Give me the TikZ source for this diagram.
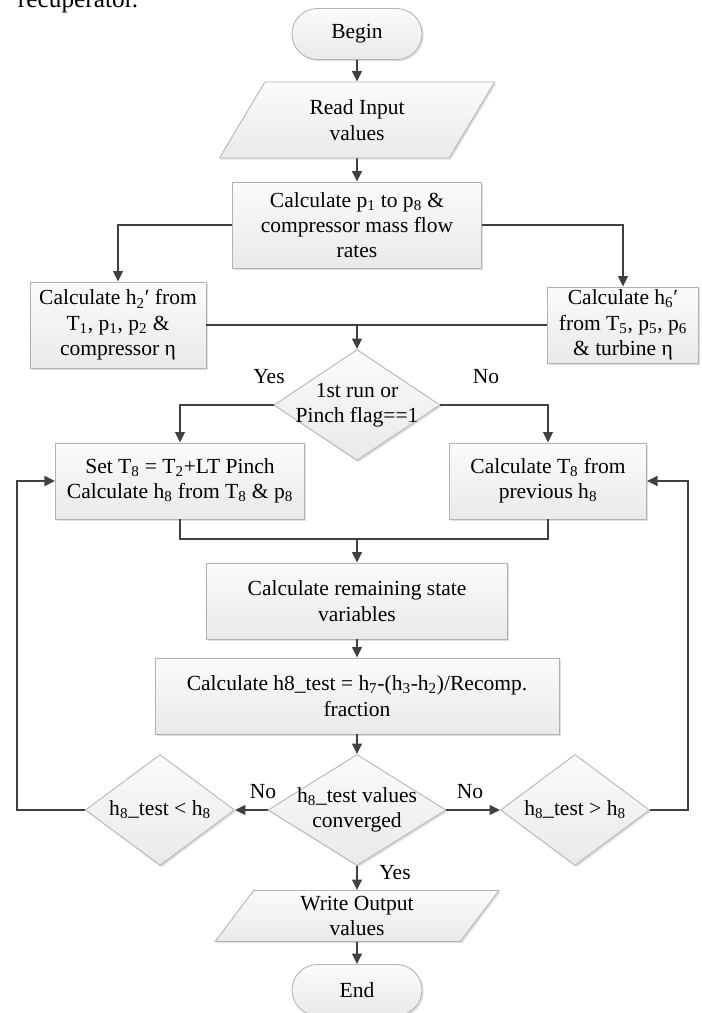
\documentclass[tikz,border=0pt]{standalone}
\usepackage{fontspec}
\setmainfont{Liberation Serif}
\usetikzlibrary{shapes.geometric,shapes.misc,arrows.meta,shadows}
\newcommand{\lo}[1]{\textsubscript{#1}}

\begin{document}
\begin{tikzpicture}[x=0.025cm, y=-0.025cm, font=\fontsize{15.3}{18}\selectfont,
% common options for blocks:
block/.style = {draw=gray!60, line width=0.6pt, top color=gray!3, bottom color=gray!17,
            align=center, inner sep=0,
            drop shadow={shadow xshift=1.2pt, shadow yshift=-1.2pt, opacity=0.25}},
% common options for begin and end:
term/.style = {block, rounded rectangle, minimum width=3.25cm, minimum height=1.275cm},
% common options for input and output:
io/.style = {block, trapezium, trapezium stretches=true, minimum height=1.9cm},
% common options for the decisions:
dec/.style = {block, diamond, minimum height=2.775cm, label={[align=center]center:{#1}}},
% common options for the connectors:
line/.style = {draw=black!75, line width=1.1pt},
arrow/.style = {line, -{Triangle[length=7.5pt,width=7pt]}}]
\useasboundingbox (0,0) rectangle (702,1013);
\node[anchor=base west, font=\fontsize{18}{20}\selectfont] (T0) at (13,7) {recuperator.};
\node[term] (C0) at (357,34) {Begin};
\node[io, trapezium left angle=60, trapezium right angle=120, minimum width=6.9cm] (C1) at (357,120) {Read Input\\values};
\node[block, minimum width=6.225cm, minimum height=2.15cm] (C2) at (357,225) {Calculate p\lo{1} to p\lo{8} \&\\compressor mass flow\\rates};
\node[block, minimum width=4.4cm, minimum height=2.15cm] (L1) at (118,325) {Calculate h\lo{2}′ from\\T\lo{1}, p\lo{1}, p\lo{2} \&\\compressor η};
\node[block, minimum width=3.775cm, minimum height=1.9cm] (R1) at (623,325) {Calculate h\lo{6}′\\from T\lo{5}, p\lo{5}, p\lo{6}\\\& turbine η};
\node[dec={1st run or\\Pinch flag==1}, minimum width=4.15cm] (C3) at (357,405) {};
\node[block, minimum width=6.225cm, minimum height=1.9cm] (L2) at (180,481) {Set T\lo{8} = T\lo{2}+LT Pinch\\Calculate h\lo{8} from T\lo{8} \& p\lo{8}};
\node[block, minimum width=4.925cm, minimum height=1.9cm] (R2) at (548,481) {Calculate T\lo{8} from\\previous h\lo{8}};
\node[block, minimum width=7.525cm, minimum height=1.9cm] (C4) at (357,601) {Calculate remaining state\\variables};
\node[block, minimum width=10.1cm, minimum height=1.9cm] (C5) at (357,696) {Calculate h8\_test = h\lo{7}-(h\lo{3}-h\lo{2})/Recomp.\\fraction};
\node[dec={h\lo{8}\_test values\\converged}, minimum width=4.45cm] (C6) at (357,810) {};
\node[dec={h\lo{8}\_test < h\lo{8}}, minimum width=3.725cm] (L3) at (160,810) {};
\node[dec={h\lo{8}\_test > h\lo{8}}, minimum width=3.725cm] (R3) at (575,810) {};
\node[io, trapezium left angle=62, trapezium right angle=118, minimum width=7.1cm, minimum height=1.275cm] (C7) at (357,916) {Write Output\\values};
\node[term] (C8) at (357,990) {End};
\node (Y1) at (269,377) {Yes};
\node (N1) at (486,377) {No};
\node (N2) at (263,792) {No};
\node (N3) at (470,792) {No};
\node (Y2) at (395,873) {Yes};
\coordinate (M1) at (357,325);
\coordinate (M2) at (357,539);
\coordinate (K1) at (17,810);
\coordinate (K2) at (688,810);
\draw[arrow] (C0) -- (C1);
\draw[arrow] (C1) -- (C2);
\draw[arrow] (C2.west) -| (L1.north);
\draw[arrow] (C2.east) -| (R1.north);
\draw[line] (L1.east) -- (R1.west);
\draw[arrow] (M1) -- (C3.north);
\draw[arrow] (C3.west) -| (L2.north);
\draw[arrow] (C3.east) -| (R2.north);
\draw[line] (L2.south) |- (M2) -| (R2.south);
\draw[arrow] (M2) -- (C4.north);
\draw[arrow] (C4) -- (C5);
\draw[arrow] (C5) -- (C6);
\draw[arrow] (C6.west) -- (L3.east);
\draw[arrow] (C6.east) -- (R3.west);
\draw[arrow] (L3.west) -- (K1) |- (L2.west);
\draw[arrow] (R3.east) -- (K2) |- (R2.east);
\draw[arrow] (C6) -- (C7);
\draw[arrow] (C7) -- (C8);
\end{tikzpicture}
\end{document}
